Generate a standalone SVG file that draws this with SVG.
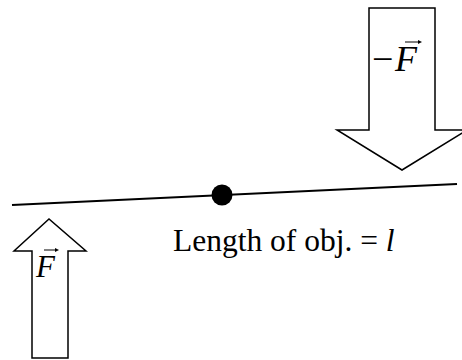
<svg xmlns="http://www.w3.org/2000/svg" width="462" height="360" viewBox="0 0 462 360">
<style>
.arrow{fill:#fff;stroke:#000;stroke-width:1.5}
.t{font-family:"Liberation Serif","Times New Roman",serif;fill:#000}
.i{font-style:italic}
</style>
<rect width="462" height="360" fill="#fff"/>
<g id="rod">
<line x1="12" y1="205" x2="457" y2="184" stroke="#000" stroke-width="2"/>
<circle cx="222" cy="195" r="10.5" fill="#000"/>
</g>
<g id="force-up">
<polygon class="arrow" points="32,358 68,358 68,251 86,251 49,219 14,251 32,251"/>
<text class="t i" x="36" y="277" font-size="31">F</text>
<line x1="44" y1="250" x2="56" y2="250" stroke="#000" stroke-width="1"/>
<polygon points="55,248 59,250 55,252" fill="#000"/>
</g>
<g id="force-down">
<polygon class="arrow" points="369,8 435,8 435,130 467,130 402,170 337,130 369,130"/>
<text class="t" x="372" y="72" font-size="38">−</text>
<text class="t i" x="395" y="71" font-size="36">F</text>
<line x1="405" y1="42" x2="419" y2="42" stroke="#000" stroke-width="1"/>
<polygon points="418,40 422,42 418,44" fill="#000"/>
</g>
<g id="label">
<text class="t" x="173" y="251" font-size="31.5">Length of obj. = <tspan class="i">l</tspan></text>
</g>
</svg>
